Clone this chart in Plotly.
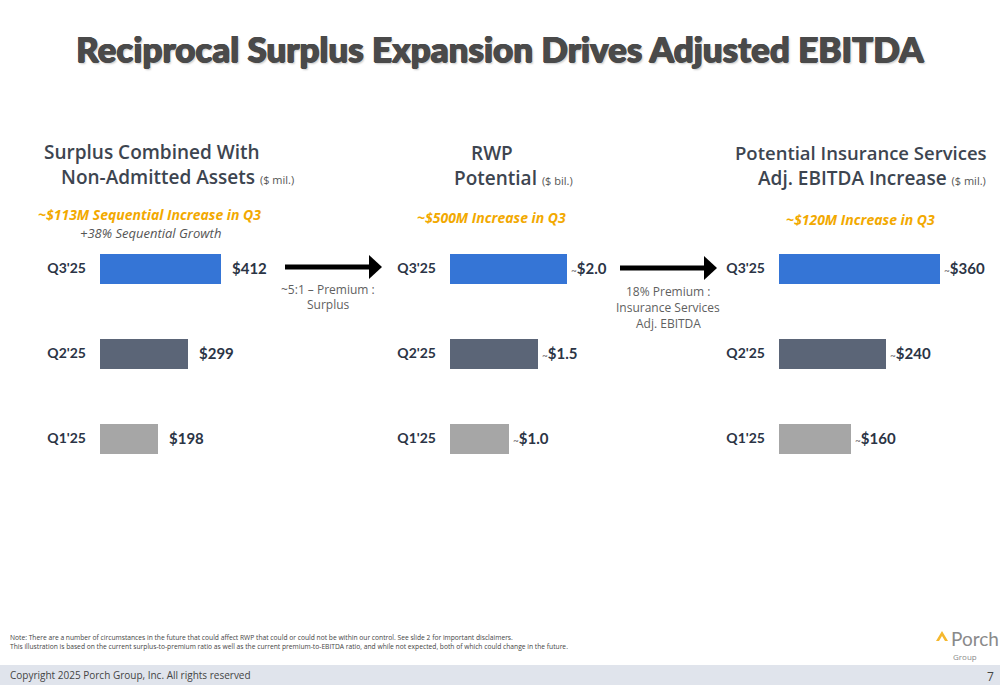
import plotly.graph_objects as go

W, H = 1000, 685

quarters = ["Q1'25", "Q2'25", "Q3'25"]
bar_colors = ["#a6a6a6", "#5b6577", "#3575d6"]

surplus = [198, 299, 412]
surplus_labels = ["$198", "$299", "$412"]
rwp = [1.0, 1.5, 2.0]
rwp_labels = ["$1.0", "$1.5", "$2.0"]
ebitda = [160, 240, 360]
ebitda_labels = ["$160", "$240", "$360"]

def px(x):
    return x / W

def py(y):
    return 1 - y / H

NAVY = "#2b3445"
HEAD = "#3d4550"
ORANGE = "#f2a900"
GRAY = "#5f5f5f"
NARROW = "Lato"

fig = go.Figure()

panels = [
    ("x", "y", surplus, surplus_labels, False, [0.100, 0.240], [0, 476.7]),
    ("x2", "y2", rwp, rwp_labels, True, [0.450, 0.590], [0, 2.393]),
    ("x3", "y3", ebitda, ebitda_labels, True, [0.779, 0.960], [0, 404.7]),
]

ydom = [py(480.5), py(225.5)]
annotations = []
for i, (xa, ya, vals, labs, tilde, dom, rng) in enumerate(panels):
    fig.add_trace(go.Bar(
        x=vals, y=quarters, orientation="h", xaxis=xa, yaxis=ya,
        marker=dict(color=bar_colors, line=dict(width=0)),
        width=0.353, showlegend=False, hoverinfo="skip",
    ))
    sfx = "" if i == 0 else str(i + 1)
    fig.layout["xaxis" + sfx] = dict(domain=dom, range=rng, visible=False,
                                     anchor=ya)
    fig.layout["yaxis" + sfx] = dict(
        domain=ydom, anchor=xa, type="category", categoryarray=quarters,
        categoryorder="array", range=[-0.5, 2.5], showgrid=False,
        zeroline=False, showline=False, ticks="",
        tickfont=dict(family=NARROW, size=14, color=NAVY, weight="bold"),
        ticklabelstandoff=13,
    )
    for v, q, lab in zip(vals, quarters, labs):
        if tilde:
            txt_ = "<span style='font-size:10px;color:#666'>~</span><b>" + lab + "</b>"
            xs = 2
        else:
            txt_ = "<b>" + lab + "</b>"
            xs = 9
        annotations.append(dict(
            x=v, y=q, xref=xa, yref=ya, text=txt_, showarrow=False,
            xanchor="left", yanchor="middle", xshift=xs,
            font=dict(family=NARROW, size=15, color=NAVY),
        ))

def txt(x, y, s, size, color, family="Open Sans", weight="normal",
        style="normal", anchor="center", shadow=None):
    f = dict(family=family, size=size, color=color, weight=weight, style=style)
    if shadow:
        f["shadow"] = shadow
    annotations.append(dict(
        x=px(x), y=py(y), xref="paper", yref="paper", text=s,
        showarrow=False, xanchor=anchor, yanchor="middle", font=f,
    ))

# Title
txt(500, 48, "Reciprocal Surplus Expansion Drives Adjusted EBITDA", 35,
    "#4a4a4a", family="Lato", weight=900,
    shadow="0.8px 0 0 #4a4a4a, -0.6px 0 0 #4a4a4a, 0 0.6px 0 #4a4a4a, 1.5px 1.5px 2px #c8c8c8")

# Panel headers
txt(152, 152, "Surplus Combined With", 19, HEAD, weight=600)
txt(59, 177, "Non-Admitted Assets <span style='font-size:11px;font-weight:normal;color:#555'>($ mil.)</span>",
    19, HEAD, weight=600, anchor="left")
txt(149, 215, "~$113M Sequential Increase in Q3", 14, ORANGE, weight=700, style="italic")
txt(150, 233, "+38% Sequential Growth", 13, "#555555", style="italic")

txt(492, 153, "RWP", 19, HEAD, weight=600)
txt(452, 178, "Potential <span style='font-size:11px;font-weight:normal;color:#555'>($ bil.)</span>",
    19, HEAD, weight=600, anchor="left")
txt(491, 218, "~$500M Increase in Q3", 14, ORANGE, weight=700, style="italic")

txt(861, 153, "Potential Insurance Services", 18.5, HEAD, weight=600)
txt(756, 178, "Adj. EBITDA Increase <span style='font-size:11px;font-weight:normal;color:#555'>($ mil.)</span>",
    19, HEAD, weight=600, anchor="left")
txt(860, 219, "~$120M Increase in Q3", 14, ORANGE, weight=700, style="italic")

# Arrow captions
txt(328, 289, "~5:1 – Premium :", 12, GRAY)
txt(328, 304, "Surplus", 12, GRAY)
txt(668, 291, "18% Premium :", 12, GRAY)
txt(668, 307, "Insurance Services", 12, GRAY)
txt(668, 323, "Adj. EBITDA", 12, GRAY)

# Footer notes
txt(8, 637, "Note: There are a number of circumstances in the future that could affect RWP that could or could not be within our control. See slide 2 for important disclaimers.",
    6.7, "#444444", anchor="left")
txt(8, 646, "This illustration is based on the current surplus-to-premium ratio as well as the current premium-to-EBITDA ratio, and while not expected, both of which could change in the future.",
    6.7, "#444444", anchor="left")
txt(8, 675, "Copyright 2025 Porch Group, Inc. All rights reserved", 10, "#444444", anchor="left")
txt(990, 676, "7", 12, "#444444")

# Logo
txt(949, 638, "Porch", 19, "#8a8a8a", family="Lato", anchor="left")
txt(951, 656, "Group", 8, "#8a8a8a", anchor="left")

shapes = [
    dict(type="rect", xref="paper", yref="paper", x0=0, x1=1,
         y0=0, y1=py(665), fillcolor="#e0e4ec", line=dict(width=0), layer="below"),
    # arrow 1
    dict(type="line", xref="paper", yref="paper", x0=px(285), x1=px(370),
         y0=py(267), y1=py(267), line=dict(color="black", width=5)),
    dict(type="path", xref="paper", yref="paper",
         path=f"M {px(369)},{py(255)} L {px(382)},{py(267)} L {px(369)},{py(279)} Z",
         fillcolor="black", line=dict(width=0)),
    # arrow 2
    dict(type="line", xref="paper", yref="paper", x0=px(620), x1=px(705),
         y0=py(268), y1=py(268), line=dict(color="black", width=5)),
    dict(type="path", xref="paper", yref="paper",
         path=f"M {px(704)},{py(256)} L {px(717)},{py(268)} L {px(704)},{py(280)} Z",
         fillcolor="black", line=dict(width=0)),
    # logo chevron
    dict(type="path", xref="paper", yref="paper",
         path=f"M {px(936)},{py(641)} L {px(942)},{py(631)} L {px(948)},{py(641)} L {px(945)},{py(641)} L {px(942)},{py(636)} L {px(939)},{py(641)} Z",
         fillcolor="#f5b82e", line=dict(width=0)),
]

fig.update_layout(
    width=W, height=H, margin=dict(l=0, r=0, t=0, b=0),
    paper_bgcolor="white", plot_bgcolor="white",
    annotations=annotations, shapes=shapes, bargap=0,
    showlegend=False,
)

fig.write_html(
    "out.html",
    config={"displayModeBar": False},
    post_script="document.body.style.margin='0';document.body.style.overflow='hidden';",
)
